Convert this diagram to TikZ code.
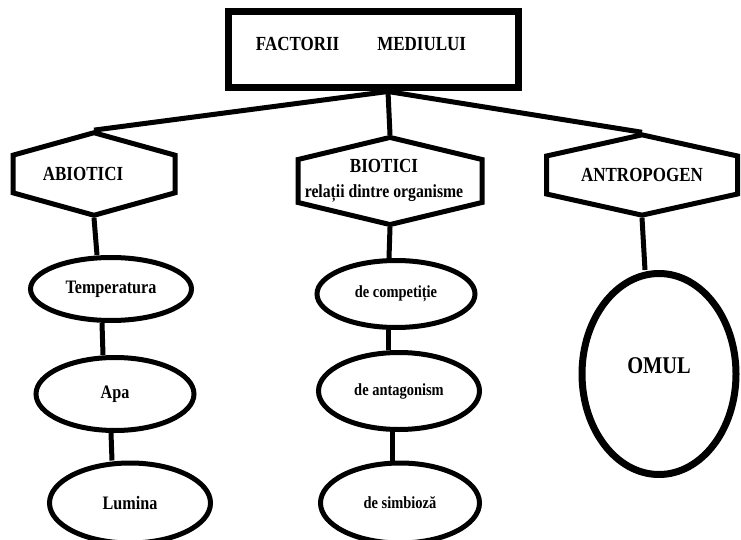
\documentclass[tikz,border=0pt]{standalone}
\usepackage{fontspec}
\setmainfont{Liberation Serif}[FakeStretch=0.85]
\usetikzlibrary{shapes.geometric, shapes.symbols}
\tikzstyle{titlebox} = [rectangle, minimum width=290pt, minimum height=76pt, draw=black, line width=7pt]
\tikzstyle{hexbox} = [signal, signal to=north and south, draw=black, line width=5pt, inner sep=0pt, text centered, font=\bfseries\fontsize{20}{24}\selectfont]
\tikzstyle{ovalbox} = [ellipse, draw=black, line width=5pt, inner sep=0pt, text centered, font=\bfseries\fontsize{19}{22}\selectfont]
\tikzstyle{smalltext} = [font=\bfseries\fontsize{17}{20}\selectfont]
\tikzstyle{link} = [line width=5pt]

\begin{document}
\begin{tikzpicture}[x=1pt, y=-1pt]
    \path[use as bounding box, fill=white] (0,0) rectangle (741,540);

    % Place nodes
    \node (factori) [titlebox, label={[xshift=-12pt, yshift=6pt, font=\bfseries\fontsize{20}{24}\selectfont]center:FACTORII\hspace{38pt}MEDIULUI}] at (373,50) {};

    \node (abiotic) [hexbox, minimum width=162pt, minimum height=66pt, signal pointer angle=149] at (94,174) {ABIOTICI\hspace*{22pt}};
    \node (biotic) [hexbox, minimum width=184pt, minimum height=66pt, signal pointer angle=153, align=center] at (390,181) {BIOTICI\hspace*{12pt}\\[1pt]{\fontsize{18.5}{20}\selectfont relații dintre organisme\hspace*{12pt}}};
    \node (antro) [hexbox, minimum width=191pt, minimum height=65pt, signal pointer angle=155] at (642,175) {ANTROPOGEN};

    \node (temp) [ovalbox, minimum width=161pt, minimum height=63pt] at (111,289) {Temperatura};
    \node (apa) [ovalbox, minimum width=158pt, minimum height=73pt] at (115,394) {Apa};
    \node (lumina) [ovalbox, minimum width=161pt, minimum height=80pt] at (130,503) {Lumina};

    \node (compet) [ovalbox, smalltext, minimum width=158pt, minimum height=67pt] at (396,294) {de competiție};
    \node (antag) [ovalbox, smalltext, minimum width=161pt, minimum height=77pt] at (399,391) {de antagonism};
    \node (simb) [ovalbox, smalltext, minimum width=159pt, minimum height=80pt] at (400,503) {de simbioză};

    \node (omul) [ovalbox, line width=7pt, minimum width=154pt, minimum height=201pt, font=\bfseries\fontsize{24}{28}\selectfont] at (659,374) {\raisebox{16pt}{OMUL}};

    % Connect nodes
    \draw [link] ([xshift=15pt]factori.south) -- (abiotic.north);
    \draw [link] ([xshift=15pt]factori.south) -- (biotic.north);
    \draw [link] ([xshift=15pt]factori.south) -- (antro.north);

    \draw [link] (abiotic.south) -- ([xshift=-14pt]temp.north);
    \draw [link] ([xshift=-9pt]temp.south) -- ([xshift=-12pt]apa.north);
    \draw [link] ([xshift=-4pt]apa.south) -- ([xshift=-18pt]lumina.north);

    \draw [link] (biotic.south) -- ([xshift=-7pt]compet.north);
    \draw [link] ([xshift=-8pt]compet.south) -- ([xshift=-11pt]antag.north);
    \draw [link] ([xshift=-7pt]antag.south) -- ([xshift=-8pt]simb.north);

    \draw [link] (antro.south) -- ([xshift=-14pt]omul.north);
\end{tikzpicture}
\end{document}
